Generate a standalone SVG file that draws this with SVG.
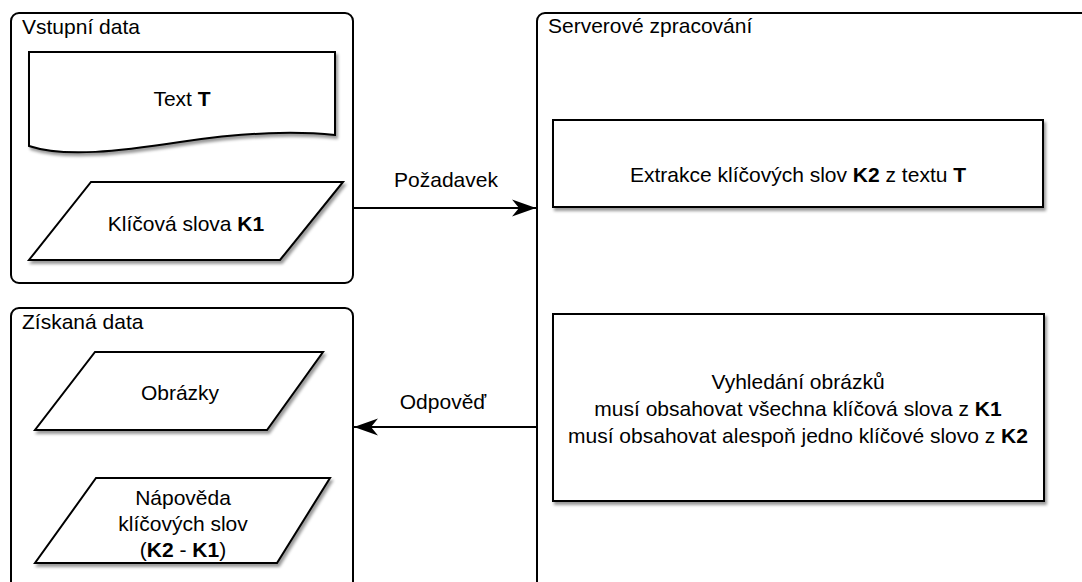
<svg xmlns="http://www.w3.org/2000/svg" width="1082" height="582" viewBox="0 0 1082 582">
<style>
text{font-family:"Liberation Sans",Arial,Helvetica,sans-serif;font-size:21px;fill:#000}
.c{text-anchor:middle}
.b{font-weight:bold}
.cont{fill:#fff;stroke:#000;stroke-width:2}
.shape{fill:#fff;stroke:#000;stroke-width:2;filter:url(#sh)}
.edge{fill:none;stroke:#000;stroke-width:2}
</style>
<defs>
<filter id="sh" x="-10%" y="-10%" width="130%" height="140%">
<feDropShadow dx="2" dy="3" stdDeviation="1.5" flood-color="#000" flood-opacity="0.4"/>
</filter>
<marker id="arr" viewBox="-25 -9 26 18" refX="0" refY="0" markerWidth="26" markerHeight="18" markerUnits="userSpaceOnUse" orient="auto">
<path d="M0,0 L-24,-8.5 L-17,0 L-24,8.5 Z" fill="#000"/>
</marker>
</defs>
<rect width="1082" height="582" fill="#fff"/>

<g id="vstupni-data">
<rect class="cont" x="11" y="13" width="342" height="270" rx="8"/>
<text x="22" y="34">Vstupní data</text>
</g>

<g id="ziskana-data">
<rect class="cont" x="11" y="308" width="342" height="300" rx="8"/>
<text x="22" y="329">Získaná data</text>
</g>

<g id="serverove-zpracovani">
<rect class="cont" x="537" y="13" width="600" height="600" rx="8"/>
<text x="548" y="33">Serverové zpracování</text>
</g>

<g id="text-t">
<path class="shape" d="M29,52 H335 V135 C290,130 240,133 180,142 C120,151 65,158 29,146 Z"/>
<text class="c" x="182" y="106">Text <tspan class="b">T</tspan></text>
</g>

<g id="klicova-slova-k1">
<polygon class="shape" points="91,182 343,182 280,260 29,260"/>
<text class="c" x="186" y="231">Klíčová slova <tspan class="b">K1</tspan></text>
</g>

<g id="obrazky">
<polygon class="shape" points="95,352 323,352 267,430 35,430"/>
<text class="c" x="180" y="400">Obrázky</text>
</g>

<g id="napoveda">
<polygon class="shape" points="96,478 330,478 277,563 35,563"/>
<text class="c" x="183" y="505">Nápověda</text>
<text class="c" x="183" y="531">klíčových slov</text>
<text class="c" x="183" y="557">(<tspan class="b">K2</tspan> - <tspan class="b">K1</tspan>)</text>
</g>

<g id="extrakce">
<rect class="shape" x="553" y="120" width="490" height="87"/>
<text class="c" x="798" y="182">Extrakce klíčových slov <tspan class="b">K2</tspan> z textu <tspan class="b">T</tspan></text>
</g>

<g id="vyhledani">
<rect class="shape" x="553" y="314" width="491" height="187"/>
<text class="c" x="798" y="389">Vyhledání obrázků</text>
<text class="c" x="798" y="416">musí obsahovat všechna klíčová slova z <tspan class="b">K1</tspan></text>
<text class="c" x="798" y="443">musí obsahovat alespoň jedno klíčové slovo z <tspan class="b">K2</tspan></text>
</g>

<g id="connectors">
<path class="edge" d="M353,208 H536" marker-end="url(#arr)"/>
<text class="c" x="446" y="187">Požadavek</text>
<path class="edge" d="M537,427 H354" marker-end="url(#arr)"/>
<text class="c" x="443" y="409">Odpověď</text>
</g>
</svg>
